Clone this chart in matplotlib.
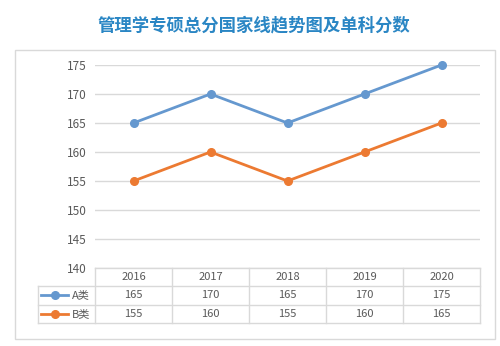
import matplotlib
matplotlib.use('Agg')
import matplotlib.pyplot as plt
from matplotlib.lines import Line2D
from matplotlib.patches import Rectangle

plt.rcParams['font.family'] = ['Noto Sans CJK SC', 'DejaVu Sans']

title = '管理学专硕总分国家线趋势图及单科分数'
years = ['2016', '2017', '2018', '2019', '2020']
a_scores = [165, 170, 165, 170, 175]
b_scores = [155, 160, 155, 160, 165]
series_names = ['A类', 'B类']
yticks = [140, 145, 150, 155, 160, 165, 170, 175]

blue = '#6598cf'
orange = '#ec7a32'
grid_c = '#d9d9d9'
text_c = '#595959'

W, H = 500, 346
fig = plt.figure(figsize=(W / 100, H / 100), dpi=100)


def fx(px):
    return px / W


def fy(py):
    return 1 - py / H


# outer frame
fig.add_artist(Rectangle((fx(15), fy(339)), fx(480), (339 - 50) / H,
                         transform=fig.transFigure, fill=False,
                         edgecolor='#d9d9d9', linewidth=1.0))

fig.text(fx(254), fy(25), title, ha='center', va='center',
         fontsize=12.5, fontweight='bold', color='#2a86c4')

# plot area
x0, x1 = 95, 480
ytop, ybot = 65, 268
ax = fig.add_axes([fx(x0), fy(ybot), (x1 - x0) / W, (ybot - ytop) / H])
ax.set_xlim(-0.5, len(years) - 0.5)
ax.set_ylim(yticks[0], yticks[-1])
for s in ax.spines.values():
    s.set_visible(False)
ax.set_xticks([])
ax.set_yticks(yticks)
ax.tick_params(axis='y', length=0, pad=6, labelsize=8.5, labelcolor=text_c)
ax.yaxis.grid(True, color=grid_c, linewidth=1.0)
ax.set_axisbelow(True)

xs = range(len(years))
ax.plot(xs, a_scores, color=blue, linewidth=2.0, marker='o', markersize=5.5,
        clip_on=False)
ax.plot(xs, b_scores, color=orange, linewidth=2.0, marker='o', markersize=5.5,
        clip_on=False)

# data table below
row_h = 18.3
col_w = (x1 - x0) / len(years)
leg_x0 = 38
t_top = ybot


def hline(xa, xb, y):
    fig.add_artist(Line2D([fx(xa), fx(xb)], [fy(y), fy(y)],
                          transform=fig.transFigure, color=grid_c, linewidth=1.0))


def vline(x, ya, yb):
    fig.add_artist(Line2D([fx(x), fx(x)], [fy(ya), fy(yb)],
                          transform=fig.transFigure, color=grid_c, linewidth=1.0))


hline(x0, x1, t_top)
for r in range(1, 4):
    hline(leg_x0, x1, t_top + r * row_h)
for c in range(len(years) + 1):
    vline(x0 + c * col_w, t_top, t_top + 3 * row_h)
vline(leg_x0, t_top + row_h, t_top + 3 * row_h)

for c, yr in enumerate(years):
    cx = x0 + (c + 0.5) * col_w
    fig.text(fx(cx), fy(t_top + 0.5 * row_h), yr, ha='center', va='center',
             fontsize=8, color=text_c)
    for r, vals in enumerate([a_scores, b_scores]):
        fig.text(fx(cx), fy(t_top + (r + 1.5) * row_h), str(vals[c]),
                 ha='center', va='center', fontsize=8, color=text_c)

for r, (name, col) in enumerate(zip(series_names, [blue, orange])):
    yy = t_top + (r + 1.5) * row_h
    fig.add_artist(Line2D([fx(41), fx(68)], [fy(yy), fy(yy)],
                          transform=fig.transFigure, color=col, linewidth=2.0))
    fig.add_artist(Line2D([fx(55)], [fy(yy)], transform=fig.transFigure,
                          color=col, marker='o', markersize=5.5))
    fig.text(fx(72), fy(yy), name, ha='left', va='center', fontsize=8,
             color=text_c)

fig.savefig('out.png', dpi=100)
